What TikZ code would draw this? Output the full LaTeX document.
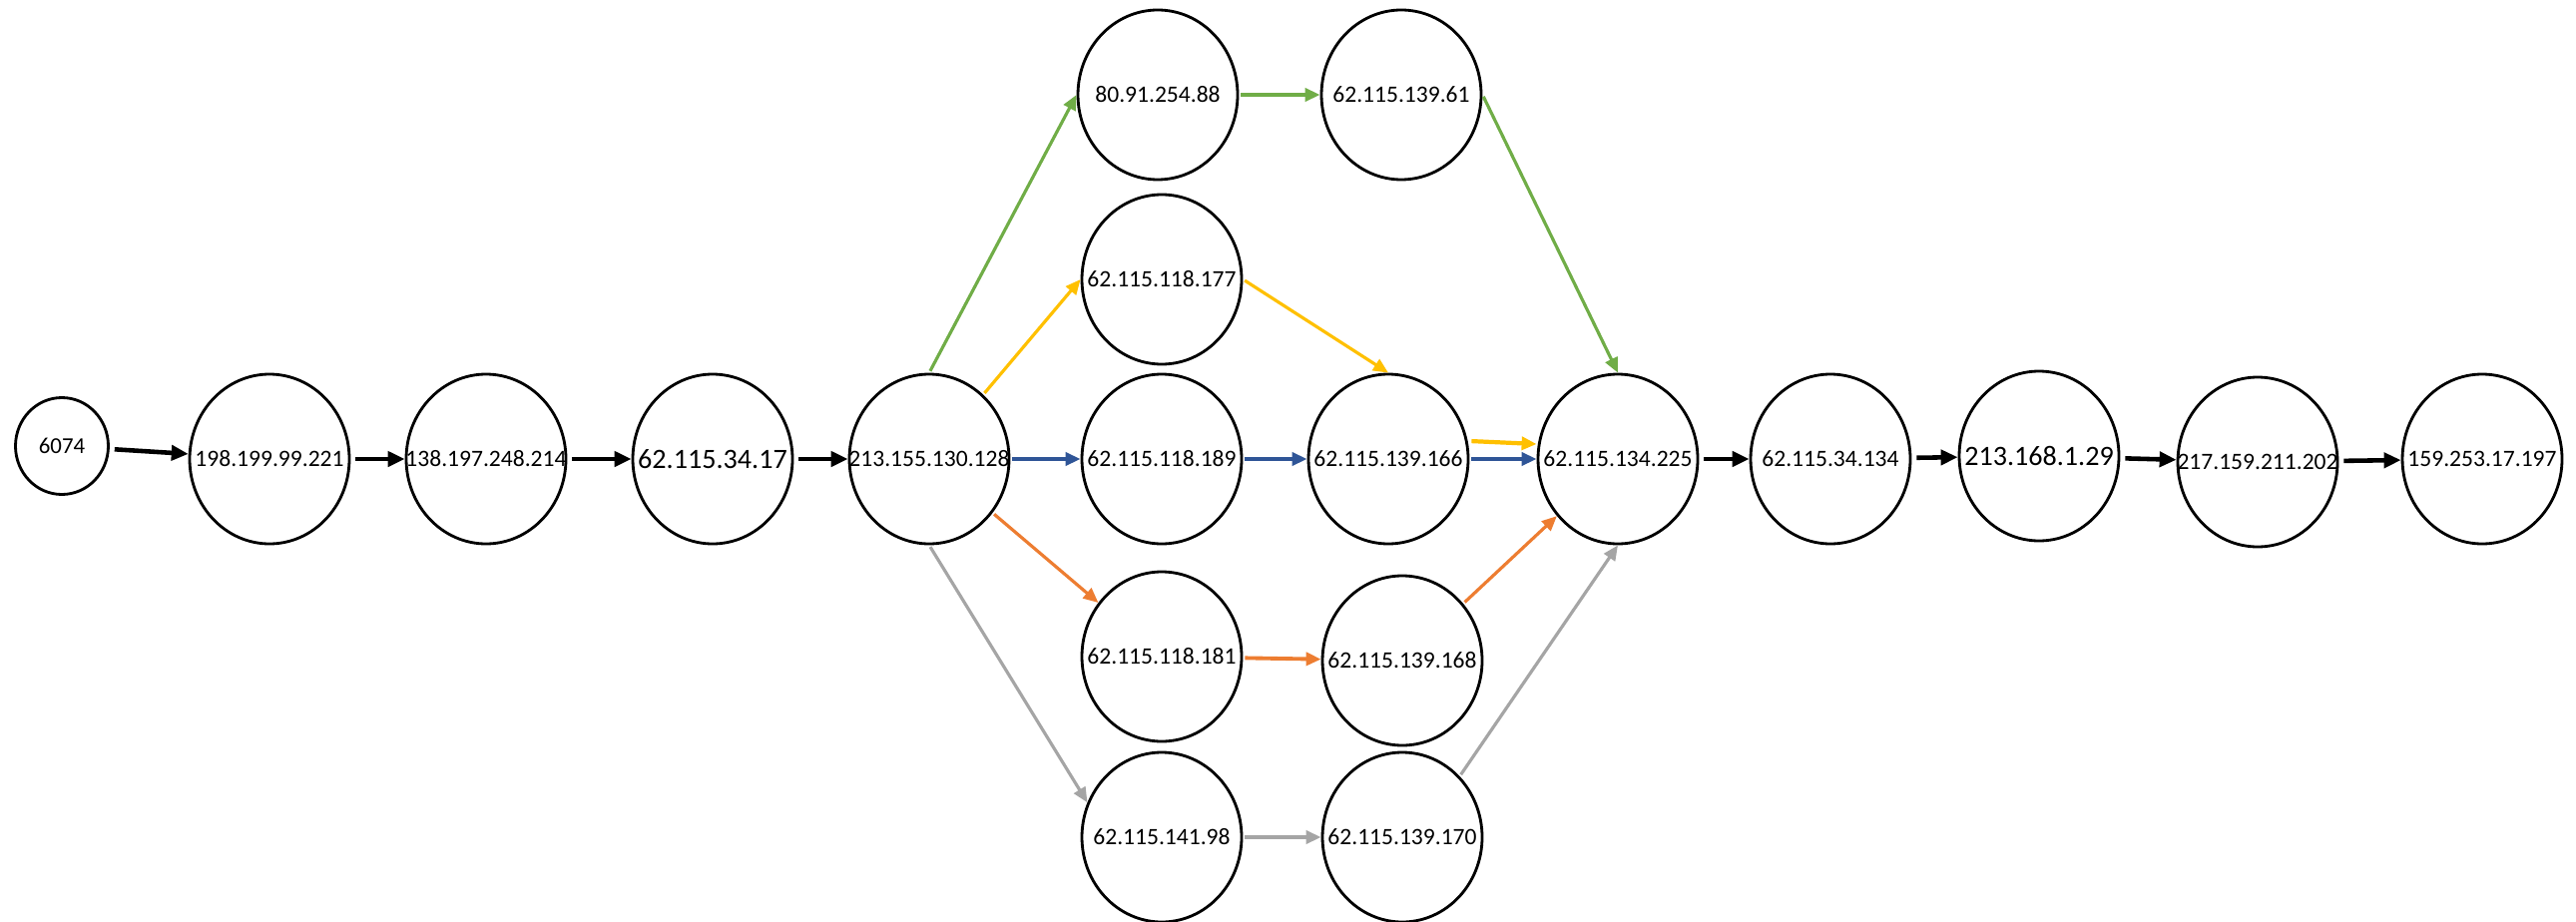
\documentclass[tikz,border=0pt]{standalone}
\usepackage{fontspec}
\setmainfont{Carlito}
\usetikzlibrary{shapes.geometric,arrows.meta}

\definecolor{routegreen}{RGB}{112,173,71}
\definecolor{routeyellow}{RGB}{255,192,0}
\definecolor{routeblue}{RGB}{47,85,151}
\definecolor{routeorange}{RGB}{237,125,49}
\definecolor{routegray}{RGB}{165,165,165}

% label that does not widen the ellipse
\newcommand{\ipaddr}[1]{\makebox[0pt]{#1}}

\begin{document}
\begin{tikzpicture}[
	host/.style={draw, ellipse, line width=0.8pt, minimum width=1.6cm, minimum height=1.7cm, inner sep=0pt, font=\fontsize{6.7}{8}\selectfont},
	hostbig/.style={host, font=\fontsize{8}{9}\selectfont},
	hop/.style={line width=1.3pt, -{Triangle[length=0.17cm,width=0.15cm]}, shorten <=0.05cm},
	route/.style={line width=0.9pt, -{Triangle[length=0.15cm,width=0.13cm]}, shorten <=0.02cm}
	]
	
	\useasboundingbox (0,0) rectangle (25.81,-9.24);
	
	% main row
	\node[draw, ellipse, line width=0.8pt, minimum width=0.93cm, minimum height=0.97cm, inner sep=0pt, font=\fontsize{6.5}{8}\selectfont] (src) at (0.62,-4.47) {\ipaddr{6074}};
	\node[host] (h1) at (2.70,-4.60) {\ipaddr{198.199.99.221}};
	\node[host] (h2) at (4.87,-4.60) {\ipaddr{138.197.248.214}};
	\node[hostbig] (h3) at (7.14,-4.60) {\ipaddr{62.115.34.17}};
	\node[host] (h4) at (9.31,-4.60) {\ipaddr{213.155.130.128}};
	\node[host] (h5) at (16.21,-4.60) {\ipaddr{62.115.134.225}};
	\node[host] (h6) at (18.34,-4.60) {\ipaddr{62.115.34.134}};
	\node[hostbig] (h7) at (20.43,-4.57) {\ipaddr{213.168.1.29}};
	\node[host] (h8) at (22.62,-4.63) {\ipaddr{217.159.211.202}};
	\node[host] (h9) at (24.87,-4.60) {\ipaddr{159.253.17.197}};
	
	% parallel branches
	\node[host] (g1) at (11.60,-0.95) {\ipaddr{80.91.254.88}};
	\node[host] (g2) at (14.04,-0.95) {\ipaddr{62.115.139.61}};
	\node[host] (y1) at (11.64,-2.80) {\ipaddr{62.115.118.177}};
	\node[host] (b1) at (11.64,-4.60) {\ipaddr{62.115.118.189}};
	\node[host] (b2) at (13.91,-4.60) {\ipaddr{62.115.139.166}};
	\node[host] (o1) at (11.64,-6.58) {\ipaddr{62.115.118.181}};
	\node[host] (o2) at (14.05,-6.62) {\ipaddr{62.115.139.168}};
	\node[host] (s1) at (11.64,-8.39) {\ipaddr{62.115.141.98}};
	\node[host] (s2) at (14.05,-8.39) {\ipaddr{62.115.139.170}};
	
	\draw[hop] (src) -- (h1);
	\draw[hop] (h1) -- (h2);
	\draw[hop] (h2) -- (h3);
	\draw[hop] (h3) -- (h4);
	\draw[hop] (h5) -- (h6);
	\draw[hop] (h6) -- (h7);
	\draw[hop] (h7) -- (h8);
	\draw[hop] (h8) -- (h9);
	
	\draw[route, routegreen] (h4.north) -- (g1.west);
	\draw[route, routegreen, line width=1.1pt] (g1) -- (g2);
	\draw[route, routegreen] (g2.east) -- (h5.north);
	
	\draw[route, routeyellow] (h4.50) -- (y1.west);
	\draw[route, routeyellow] (y1.east) -- (b2.north);
	\draw[route, routeyellow, line width=1.2pt] ([yshift=0.18cm]b2.east) -- ([yshift=0.15cm]h5.west);
	
	%\draw[route, routeblue] (h4) -- (b1);
	\draw[route, routeblue, line width=1.2pt] (h4) -- (b1);
	\draw[route, routeblue, line width=1.2pt] (b1) -- (b2);
	\draw[route, routeblue, line width=1.2pt] (b2) -- (h5);
	
	\draw[route, routeorange] (h4) -- (o1);
	\draw[route, routeorange, line width=1.1pt] (o1) -- (o2);
	\draw[route, routeorange] (o2) -- (h5);
	
	\draw[route, routegray] (h4.south) -- (s1.155);
	\draw[route, routegray, line width=1.1pt] (s1) -- (s2);
	\draw[route, routegray] (s2.north east) -- (h5.south);
	
\end{tikzpicture}
\end{document}
